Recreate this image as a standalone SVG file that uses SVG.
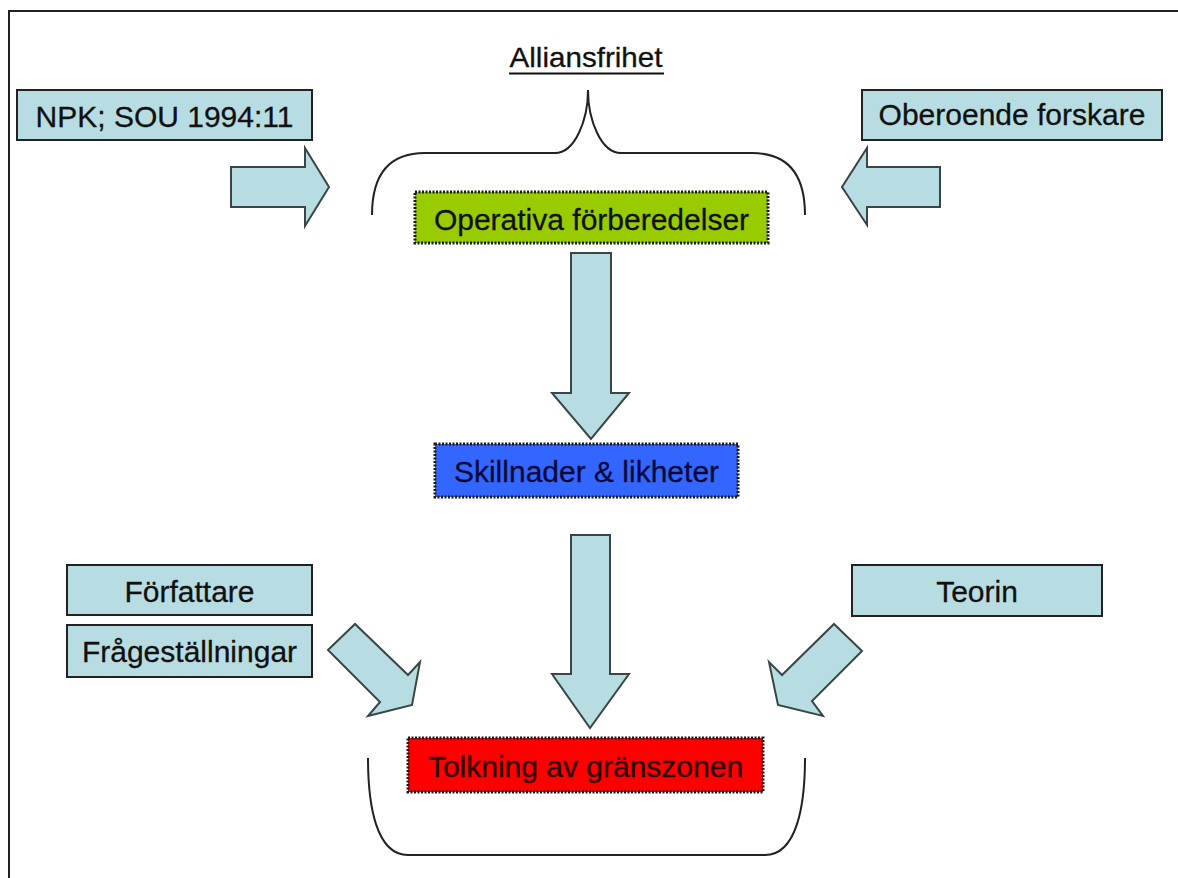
<svg xmlns="http://www.w3.org/2000/svg" width="1178" height="878" viewBox="0 0 1178 878">
<style>
.t{font-family:"Liberation Sans",Arial,sans-serif;font-size:30px;fill:#111;text-anchor:middle;stroke:#111;stroke-width:0.3}
.src{fill:#b7dde3;stroke:#222;stroke-width:2}
.key{stroke:#1a1a1a;stroke-width:3;stroke-dasharray:2 1.5}
.arr{fill:#b7dde3;stroke:#3a4545;stroke-width:2;stroke-linejoin:miter}
.brace{fill:none;stroke:#222;stroke-width:2}
</style>
<rect width="1178" height="878" fill="#fff"/>
<path d="M9 878 V11 H1178" fill="none" stroke="#222" stroke-width="2"/>

<g id="allians">
<text class="t" x="586" y="67" style="font-size:28px" textLength="153" lengthAdjust="spacingAndGlyphs">Alliansfrihet</text>
<line x1="509" y1="73.5" x2="664" y2="73.5" stroke="#111" stroke-width="2"/>
<path class="brace" d="M372 215 C372 180 385 153 425 153 H555 C575 153 588 120 588 90 C588 120 601 153 621 153 H752 C792 153 805 180 805 215"/>
</g>

<g id="npk"><rect class="src" x="17" y="90" width="295" height="50"/><text class="t" x="164.5" y="127">NPK; SOU 1994:11</text></g>
<g id="oberoende"><rect class="src" x="862" y="90" width="300" height="50"/><text class="t" x="1012" y="125">Oberoende forskare</text></g>
<g id="operativa"><rect class="key" x="415" y="192" width="353" height="51" fill="#99cc00"/><text class="t" x="591.5" y="230">Operativa förberedelser</text></g>
<g id="skillnader"><rect class="key" x="435" y="444" width="303" height="53" fill="#3366ff"/><text class="t" x="586.5" y="482" style="fill:#0a0a3a;stroke:#0a0a3a">Skillnader &amp; likheter</text></g>
<g id="forfattare"><rect class="src" x="67" y="565" width="245" height="50"/><text class="t" x="189.5" y="602">Författare</text></g>
<g id="fragestallningar"><rect class="src" x="67" y="625" width="245" height="52"/><text class="t" x="189.5" y="662">Frågeställningar</text></g>
<g id="teorin"><rect class="src" x="852" y="565" width="250" height="51"/><text class="t" x="977" y="602">Teorin</text></g>
<g id="tolkning">
<rect class="key" x="408" y="738" width="355" height="54" fill="#ff0000"/><text class="t" x="585.5" y="777" style="fill:#2a0000;stroke:#2a0000">Tolkning av gränszonen</text>
<path class="brace" d="M368 758 C368 805 376 855 408 855 H765 C797 855 805 805 805 758"/>
</g>

<g id="connectors">
<path class="arr" d="M231 167 H305 V148 L329 187 L305 226 V207 H231 Z"/>
<path class="arr" d="M940 167 H867 V148 L842 187 L867 225 V207 H940 Z"/>
<path class="arr" d="M571 253 H611 V393 H629 L591 439 L552 393 H571 Z"/>
<path class="arr" d="M571 535 H610 V674 H629 L590 728 L552 674 H571 Z"/>
<path class="arr" d="M328 650 L355 624 L408 675 L420 662 L412 705 L368 716 L380 702 Z"/>
<path class="arr" d="M834 624 L862 651 L812 701 L823 716 L778 705 L769 662 L782 675 Z"/>
</g>
</svg>
